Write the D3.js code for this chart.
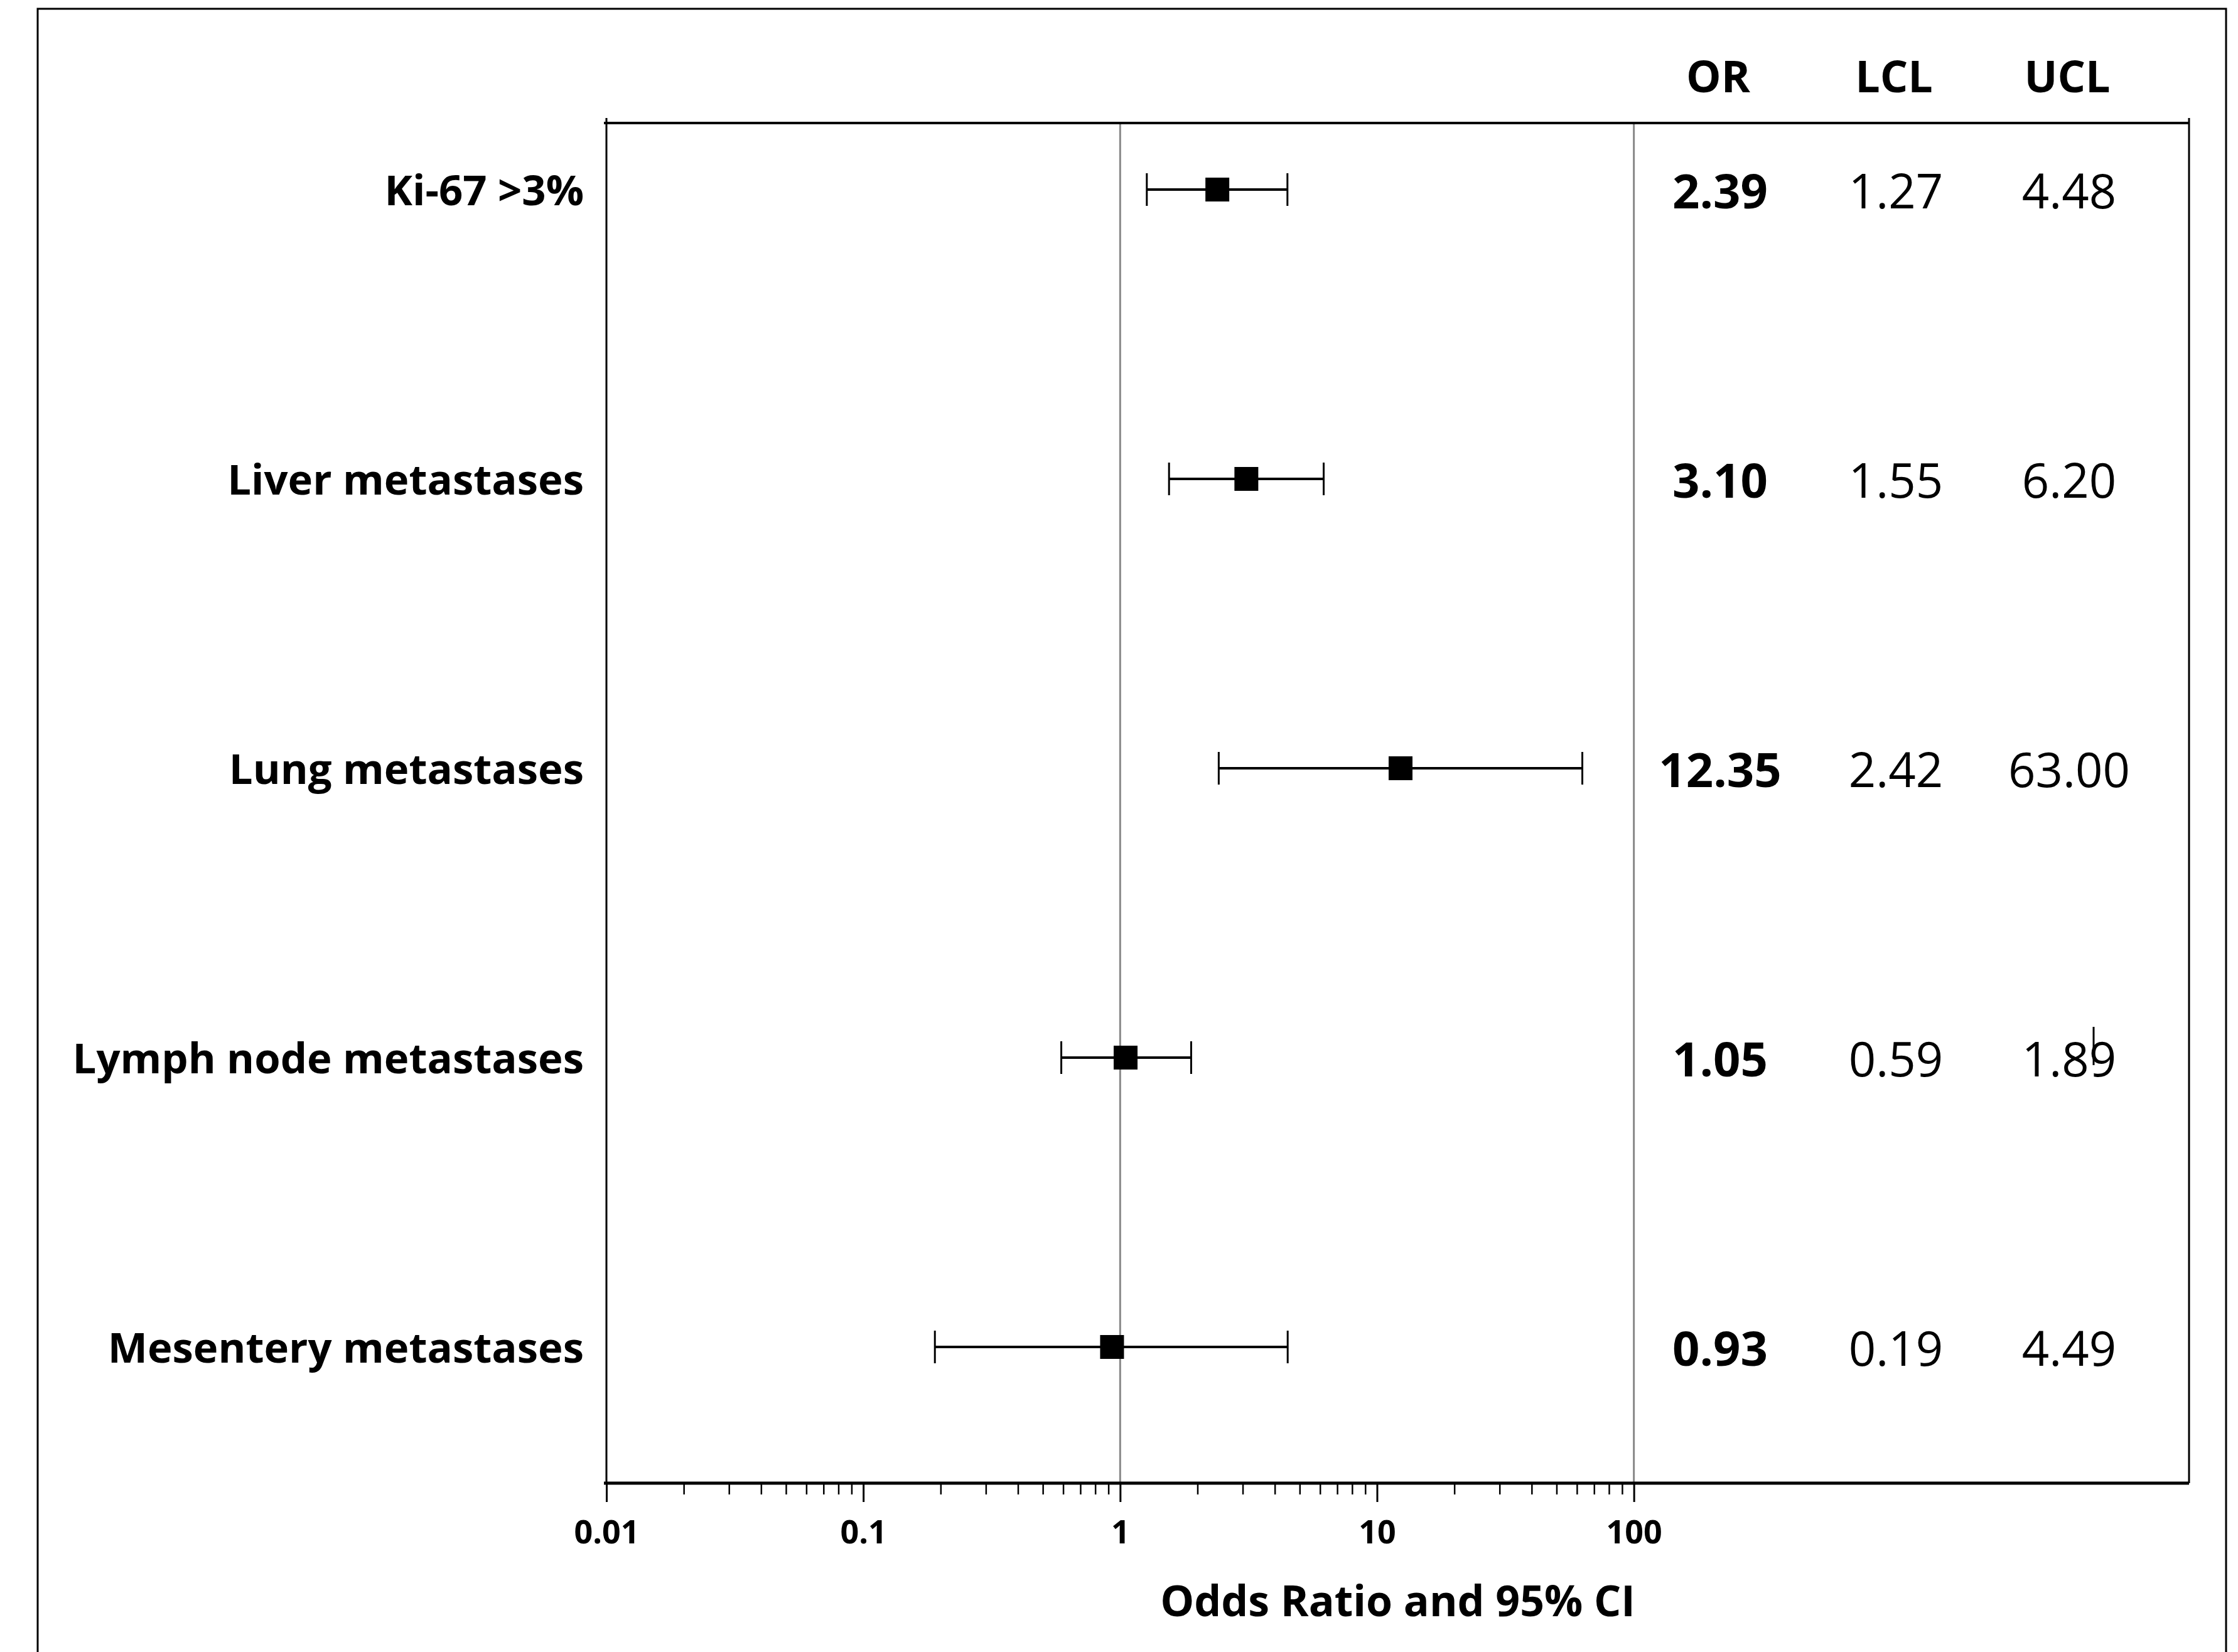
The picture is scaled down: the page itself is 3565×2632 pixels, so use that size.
<!DOCTYPE html>
<html>
<head>
<meta charset="utf-8">
<script src="https://cdn.jsdelivr.net/npm/d3@7"></script>
<style>
  body { margin: 0; background: #fff; }
  svg { display: block; font-family: "Open Sans", sans-serif; }
</style>
</head>
<body>
<div id="chart"></div>
<script>
// Data
const categories = ["Ki-67 >3%", "Liver metastases", "Lung metastases", "Lymph node metastases", "Mesentery metastases"];
const oddsRatio = [2.39, 3.10, 12.35, 1.05, 0.93];
const lowerCL = [1.27, 1.55, 2.42, 0.59, 0.19];
const upperCL = [4.48, 6.20, 63.00, 1.89, 4.49];
const majorTicks = [0.01, 0.1, 1, 10, 100];
const refLines = [1, 100];
const tableHeaders = ["OR", "LCL", "UCL"];

const rows = categories.map((c, i) => ({
  label: c, or: oddsRatio[i], lcl: lowerCL[i], ucl: upperCL[i]
}));

// minor ticks 2..9 in every decade up to 100
const minorTicks = [];
majorTicks.slice(0, -1).forEach(m => {
  for (let k = 2; k <= 9; k++) minorTicks.push(+(m * k).toPrecision(3));
});

const W = 3565, H = 2632;
const margin = {top: 196, right: 78, bottom: 269, left: 966};
const width = W - margin.left - margin.right;
const height = H - margin.top - margin.bottom;

const svg = d3.select("#chart").append("svg")
  .attr("width", W)
  .attr("height", H);

// outer frame (bottom edge runs off the picture)
svg.append("rect")
  .attr("x", 60).attr("y", 14)
  .attr("width", 3486).attr("height", 2700)
  .attr("fill", "none")
  .attr("stroke", "#000")
  .attr("stroke-width", 3);

const g = svg.append("g")
  .attr("transform", `translate(${margin.left}, ${margin.top})`);

// log scale, the right part of the box holds the table
const x = d3.scaleLog()
  .domain([0.01, 14500])
  .range([0, width]);

const y = d3.scalePoint()
  .domain(categories)
  .range([106, 1950]);

// reference lines at 1 and 100
g.selectAll(".ref")
  .data(refLines)
  .enter().append("line")
  .attr("x1", d => x(d)).attr("x2", d => x(d))
  .attr("y1", 0).attr("y2", height)
  .attr("stroke", "#888")
  .attr("stroke-width", 3);

// plot box
g.append("line").attr("x1", 0).attr("x2", 0).attr("y1", -8).attr("y2", height)
  .attr("stroke", "#000").attr("stroke-width", 3);
g.append("line").attr("x1", width).attr("x2", width).attr("y1", -8).attr("y2", height)
  .attr("stroke", "#000").attr("stroke-width", 3);
g.append("line").attr("x1", -4).attr("x2", width).attr("y1", 0).attr("y2", 0)
  .attr("stroke", "#000").attr("stroke-width", 4);

// bottom axis: major ticks with labels
const xAxis = g.append("g")
  .attr("transform", `translate(0, ${height})`)
  .call(d3.axisBottom(x).tickValues(majorTicks).tickSize(30).tickPadding(29)
    .tickFormat(d3.format("~g")));
xAxis.select(".domain").remove();
xAxis.selectAll(".tick line").attr("stroke-width", 3);
xAxis.selectAll("text")
  .attr("font-size", 52)
  .attr("font-weight", "bold")
  .attr("font-family", "Open Sans")
  .attr("fill", "#000");

// minor ticks
const xMinor = g.append("g")
  .attr("transform", `translate(0, ${height})`)
  .call(d3.axisBottom(x).tickValues(minorTicks).tickSize(18).tickFormat(""));
xMinor.select(".domain").remove();
xMinor.selectAll(".tick line").attr("stroke-width", 2.5);

g.append("line").attr("x1", -4).attr("x2", width).attr("y1", height).attr("y2", height)
  .attr("stroke", "#000").attr("stroke-width", 5);

// axis title
g.append("text")
  .attr("x", width / 2)
  .attr("y", height + 212)
  .attr("text-anchor", "middle")
  .attr("font-size", 68)
  .attr("font-weight", "bold")
  .text("Odds Ratio and 95% CI");

// category labels
g.selectAll(".cat")
  .data(rows)
  .enter().append("text")
  .attr("x", -36)
  .attr("y", d => y(d.label) + 25)
  .attr("text-anchor", "end")
  .attr("font-size", 67)
  .attr("font-weight", "bold")
  .text(d => d.label);

// confidence intervals
const ci = g.selectAll(".ci")
  .data(rows)
  .enter().append("g");

ci.append("line")
  .attr("x1", d => x(d.lcl)).attr("x2", d => x(d.ucl))
  .attr("y1", d => y(d.label)).attr("y2", d => y(d.label))
  .attr("stroke", "#000").attr("stroke-width", 4);

ci.append("line")
  .attr("x1", d => x(d.lcl)).attr("x2", d => x(d.lcl))
  .attr("y1", d => y(d.label) - 26).attr("y2", d => y(d.label) + 26)
  .attr("stroke", "#000").attr("stroke-width", 3);

ci.append("line")
  .attr("x1", d => x(d.ucl)).attr("x2", d => x(d.ucl))
  .attr("y1", d => y(d.label) - 26).attr("y2", d => y(d.label) + 26)
  .attr("stroke", "#000").attr("stroke-width", 3);

ci.append("rect")
  .attr("x", d => x(d.or) - 19)
  .attr("y", d => y(d.label) - 19)
  .attr("width", 38).attr("height", 38)
  .attr("fill", "#000");

// table on the right
const colX = [2740 - margin.left, 3020 - margin.left, 3296 - margin.left];

g.selectAll(".hdr")
  .data(tableHeaders)
  .enter().append("text")
  .attr("x", (d, i) => colX[i] - 3)
  .attr("y", 147 - margin.top)
  .attr("text-anchor", "middle")
  .attr("font-size", 70)
  .attr("font-weight", "bold")
  .text(d => d);

const fmt = d3.format(".2f");
const cols = [
  {key: "or", bold: true},
  {key: "lcl", bold: false},
  {key: "ucl", bold: false}
];
cols.forEach((c, i) => {
  g.selectAll(".val" + i)
    .data(rows)
    .enter().append("text")
    .attr("x", colX[i])
    .attr("y", d => y(d.label) + 30)
    .attr("text-anchor", "middle")
    .attr("font-size", 76)
    .attr("font-weight", c.bold ? "bold" : "normal")
    .text(d => fmt(d[c.key]));
});

// stray cursor mark in the reference, inside "1.89"
g.append("line")
  .attr("x1", 3335 - margin.left).attr("x2", 3335 - margin.left)
  .attr("y1", y("Lymph node metastases") - 49).attr("y2", y("Lymph node metastases") + 12)
  .attr("stroke", "#000").attr("stroke-width", 3);
</script>
</body>
</html>
